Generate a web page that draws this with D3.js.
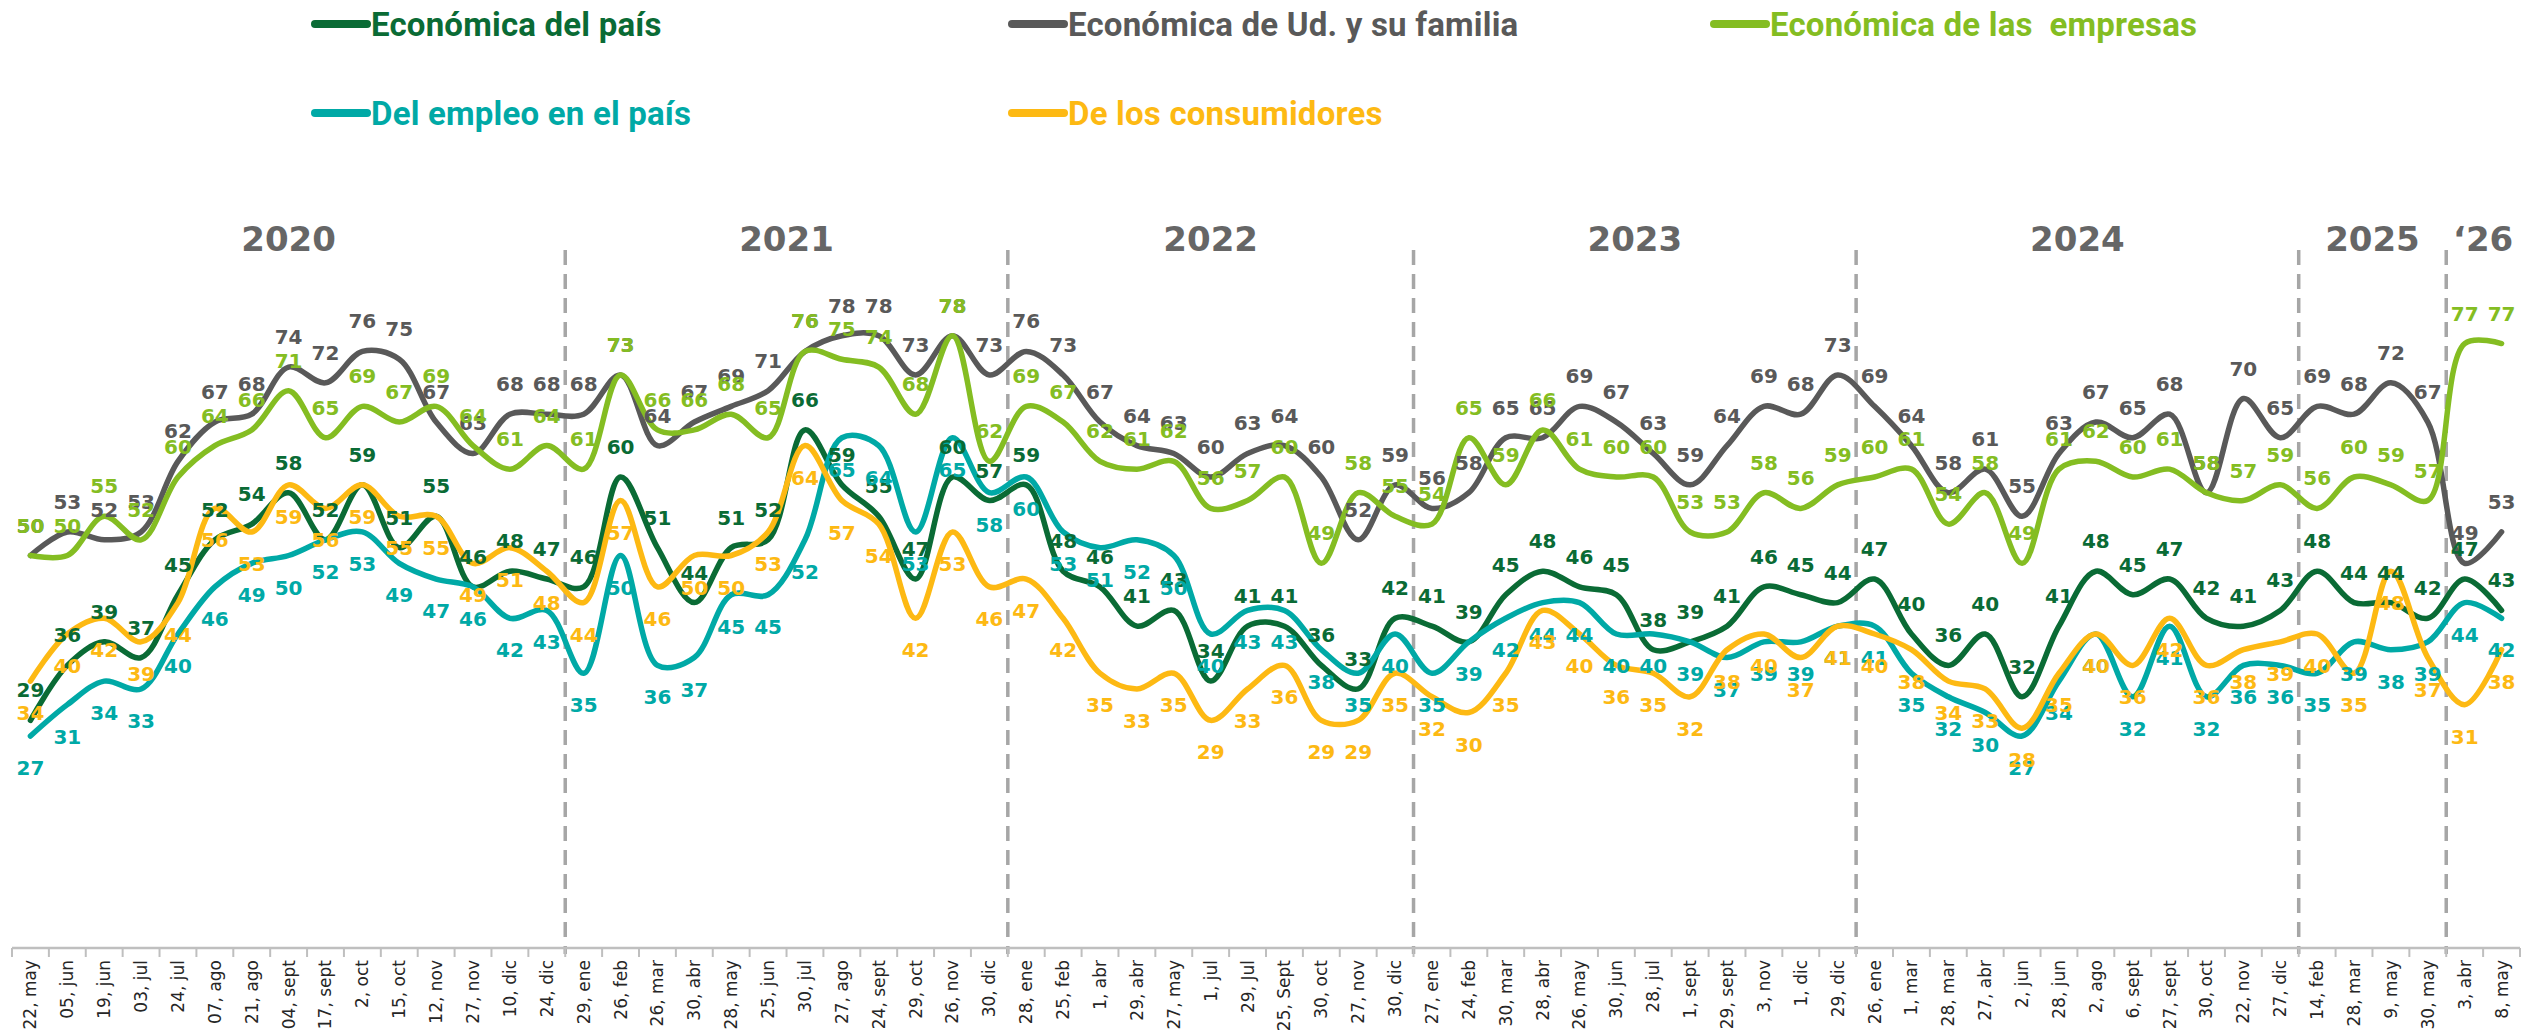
<!DOCTYPE html>
<html>
<head>
<meta charset="utf-8">
<script src="https://cdn.jsdelivr.net/npm/d3@7"></script>
<style>
  body { margin: 0; background: #fff; }
</style>
</head>
<body>
<div id="main-chart"></div>
<script>
const width = 2533;
const height = 1034;
const margin = { top: 163, bottom: 86, left: 12, right: 13 };

const dates = [
  "22, may", "05, jun", "19, jun", "03, jul", "24, jul", "07, ago", "21, ago", "04, sept", "17, sept", "2, oct", "15, oct", "12, nov", "27, nov", "10, dic", "24, dic",
  "29, ene", "26, feb", "26, mar", "30, abr", "28, may", "25, jun", "30, jul", "27, ago", "24, sept", "29, oct", "26, nov", "30, dic",
  "28, ene", "25, feb", "1, abr", "29, abr", "27, may", "1, jul", "29, Jul", "25, Sept", "30, oct", "27, nov", "30, dic",
  "27, ene", "24, feb", "30, mar", "28, abr", "26, may", "30, jun", "28, jul", "1, sept", "29, sept", "3, nov", "1, dic", "29, dic",
  "26, ene", "1, mar", "28, mar", "27, abr", "2, jun", "28, jun", "2, ago", "6, sept", "27, sept", "30, oct", "22, nov", "27, dic",
  "14, feb", "28, mar", "9, may", "30, may",
  "3, abr", "8, may"
];

const years = ["2020", "2021", "2022", "2023", "2024", "2025", "\u201826"];
const yearCounts = [15, 12, 11, 12, 12, 4, 2];

const pais = [
  29, 36, 39, 37, 45, 52, 54, 58, 52, 59, 51, 55, 46, 48, 47,
  46, 60, 51, 44, 51, 52, 66, 59, 55, 47, 60, 57,
  59, 48, 46, 41, 43, 34, 41, 41, 36, 33, 42,
  41, 39, 45, 48, 46, 45, 38, 39, 41, 46, 45, 44,
  47, 40, 36, 40, 32, 41, 48, 45, 47, 42, 41, 43,
  48, 44, 44, 42,
  47, 43
];
const familia = [
  50, 53, 52, 53, 62, 67, 68, 74, 72, 76, 75, 67, 63, 68, 68,
  68, 73, 64, 67, 69, 71, 76, 78, 78, 73, 78, 73,
  76, 73, 67, 64, 63, 60, 63, 64, 60, 52, 59,
  56, 58, 65, 65, 69, 67, 63, 59, 64, 69, 68, 73,
  69, 64, 58, 61, 55, 63, 67, 65, 68, 58, 70, 65,
  69, 68, 72, 67,
  49, 53
];
const empresas = [
  50, 50, 55, 52, 60, 64, 66, 71, 65, 69, 67, 69, 64, 61, 64,
  61, 73, 66, 66, 68, 65, 76, 75, 74, 68, 78, 62,
  69, 67, 62, 61, 62, 56, 57, 60, 49, 58, 55,
  54, 65, 59, 66, 61, 60, 60, 53, 53, 58, 56, 59,
  60, 61, 54, 58, 49, 61, 62, 60, 61, 58, 57, 59,
  56, 60, 59, 57,
  77, 77
];
const empleo = [
  27, 31, 34, 33, 40, 46, 49, 50, 52, 53, 49, 47, 46, 42, 43,
  35, 50, 36, 37, 45, 45, 52, 65, 64, 53, 65, 58,
  60, 53, 51, 52, 50, 40, 43, 43, 38, 35, 40,
  35, 39, 42, 44, 44, 40, 40, 39, 37, 39, 39, 41,
  41, 35, 32, 30, 27, 34, 40, 32, 41, 32, 36, 36,
  35, 39, 38, 39,
  44, 42
];
const consumidores = [
  34, 40, 42, 39, 44, 56, 53, 59, 56, 59, 55, 55, 49, 51, 48,
  44, 57, 46, 50, 50, 53, 64, 57, 54, 42, 53, 46,
  47, 42, 35, 33, 35, 29, 33, 36, 29, 29, 35,
  32, 30, 35, 43, 40, 36, 35, 32, 38, 40, 37, 41,
  40, 38, 34, 33, 28, 35, 40, 36, 42, 36, 38, 39,
  40, 35, 48, 37,
  31, 38
];

// legend order: row by row, three per row
const series = [
  { name: "Económica del país", values: pais, color: "#0a6b35", above: true },
  { name: "Económica de Ud. y su familia", values: familia, color: "#595959", above: true },
  { name: "Económica de las  empresas", values: empresas, color: "#84bd22", above: true },
  { name: "Del empleo en el país", values: empleo, color: "#00a9a6", above: false },
  { name: "De los consumidores", values: consumidores, color: "#fdb913", above: false }
];
const drawOrder = [1, 2, 0, 3, 4];

const axisY = height - margin.bottom;

const svg = d3
  .select("#main-chart")
  .append("svg")
  .attr("width", width)
  .attr("height", height)
  .attr("viewBox", [0, 0, width, height]);

const x = d3
  .scaleBand()
  .domain(d3.range(dates.length))
  .range([margin.left, width - margin.right])
  .padding(0);

const y = d3
  .scaleLinear()
  .domain([0, 100])
  .range([axisY, margin.top]);

const cx = (i) => x(i) + x.bandwidth() / 2;

// year dividers and year labels
let start = 0;
const yearBounds = years.map((yr, k) => {
  const b = { yr, from: start, to: start + yearCounts[k] };
  start += yearCounts[k];
  return b;
});

svg
  .append("g")
  .selectAll("line")
  .data(yearBounds.slice(1))
  .join("line")
  .attr("x1", (d) => x(d.from))
  .attr("x2", (d) => x(d.from))
  .attr("y1", 250)
  .attr("y2", axisY + 6)
  .attr("stroke", "#a6a6a6")
  .attr("stroke-width", 3.5)
  .attr("stroke-dasharray", "15,9");

svg
  .append("g")
  .selectAll("text")
  .data(yearBounds)
  .join("text")
  .attr("x", (d) => (x(d.from) + x(d.to - 1) + x.bandwidth()) / 2)
  .attr("y", 239)
  .attr("text-anchor", "middle")
  .attr("dominant-baseline", "central")
  .attr("fill", "#666666")
  .attr("font-family", "DejaVu Sans, sans-serif")
  .attr("font-weight", "bold")
  .attr("font-size", "34px")
  .text((d) => d.yr);

// x axis
function xAxis(g) {
  g.attr("transform", `translate(0, ${axisY})`)
    .call(d3.axisBottom(x).tickSize(0).tickFormat((i) => dates[i]))
    .call((g) => g.select(".domain").remove());
  g.selectAll("text")
    .attr("transform", "rotate(-90)")
    .attr("text-anchor", "end")
    .attr("x", -12)
    .attr("y", 0)
    .attr("dy", "0.35em")
    .attr("fill", "#262626")
    .attr("font-family", "DejaVu Sans, sans-serif")
    .attr("font-size", "17px");
}
svg.append("g").call(xAxis);

svg
  .append("line")
  .attr("x1", margin.left)
  .attr("x2", width - margin.right)
  .attr("y1", axisY)
  .attr("y2", axisY)
  .attr("stroke", "#bfbfbf")
  .attr("stroke-width", 2.5);

svg
  .append("g")
  .selectAll("line")
  .data(d3.range(dates.length + 1))
  .join("line")
  .attr("x1", (i) => (i < dates.length ? x(i) : x(i - 1) + x.bandwidth()))
  .attr("x2", (i) => (i < dates.length ? x(i) : x(i - 1) + x.bandwidth()))
  .attr("y1", axisY)
  .attr("y2", axisY + 9)
  .attr("stroke", "#bfbfbf")
  .attr("stroke-width", 2);

// lines
const line = d3
  .line()
  .x((d, i) => cx(i))
  .y((d) => y(d))
  .curve(d3.curveCatmullRom.alpha(0.5));

svg
  .append("g")
  .selectAll("path")
  .data(drawOrder.map((k) => series[k]))
  .join("path")
  .attr("d", (s) => line(s.values))
  .attr("fill", "none")
  .attr("stroke", (s) => s.color)
  .attr("stroke-width", 5.5)
  .attr("stroke-linecap", "round")
  .attr("stroke-linejoin", "round");

// value labels
drawOrder.forEach((k) => {
  const s = series[k];
  svg
    .append("g")
    .selectAll("text")
    .data(s.values)
    .join("text")
    .attr("x", (d, i) => cx(i))
    .attr("y", (d) => y(d) + (s.above ? -30 : 32))
    .attr("text-anchor", "middle")
    .attr("dominant-baseline", "central")
    .attr("fill", s.color)
    .attr("font-family", "DejaVu Sans, sans-serif")
    .attr("font-weight", "bold")
    .attr("font-size", "20px")
    .text((d) => d);
});

// legend
const legendCols = [313, 1010, 1712];
const legendRows = [24, 113];
const legend = svg
  .append("g")
  .selectAll("g")
  .data(series)
  .join("g")
  .attr("transform", (d, i) => `translate(${legendCols[i % 3]}, ${legendRows[Math.floor(i / 3)]})`);

legend
  .append("line")
  .attr("x1", 2)
  .attr("x2", 54)
  .attr("stroke", (d) => d.color)
  .attr("stroke-width", 8)
  .attr("stroke-linecap", "round");

legend
  .append("text")
  .attr("x", 58)
  .attr("dominant-baseline", "central")
  .attr("fill", (d) => d.color)
  .attr("font-family", "Roboto, sans-serif")
  .attr("font-weight", "bold")
  .attr("font-size", "33px")
  .attr("letter-spacing", "0.2px")
  .style("white-space", "pre")
  .text((d) => d.name);
</script>
</body>
</html>
